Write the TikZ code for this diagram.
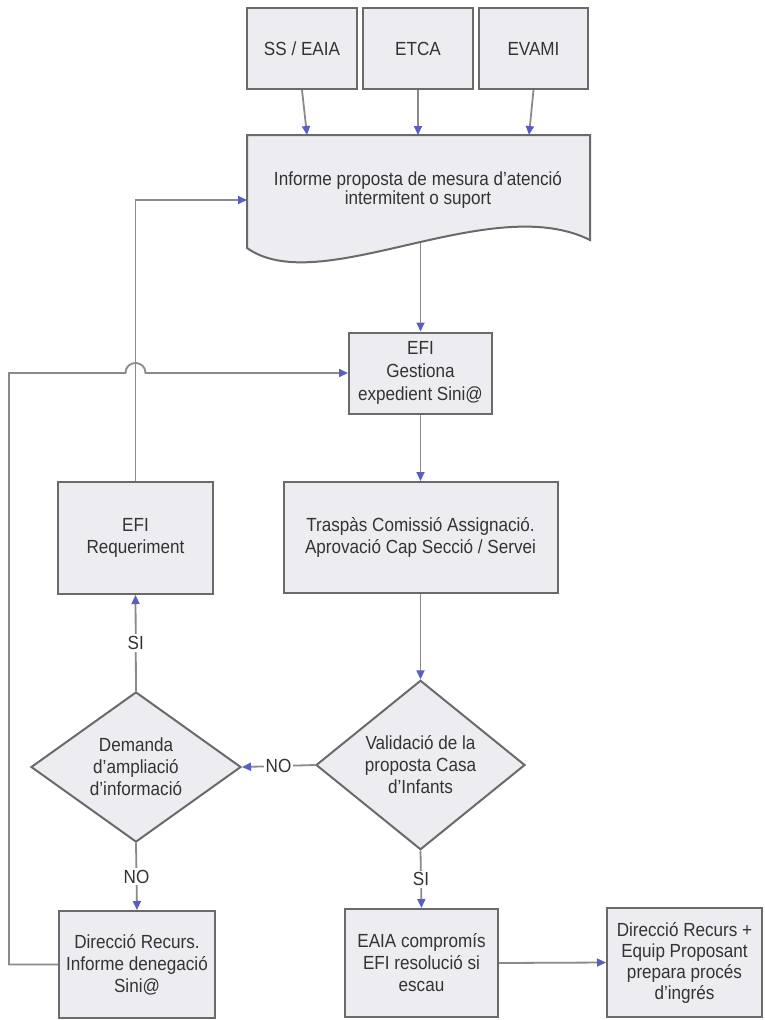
\documentclass[tikz,border=0pt]{standalone}
\usepackage{fontspec}
\setmainfont{Liberation Sans}[FakeStretch=0.9]
\usetikzlibrary{arrows.meta,shapes.geometric,calc}
\definecolor{boxfill}{HTML}{EDEDF1}
\definecolor{boxline}{HTML}{6A6A6A}
\definecolor{connc}{HTML}{8A8A8A}
\definecolor{tipblue}{HTML}{5A5EC0}
\definecolor{txt}{HTML}{333333}
\begin{document}
\begin{tikzpicture}[x=1pt,y=-1pt,
  every node/.style={font=\fontsize{19}{22}\selectfont, text=txt},
  box/.style={draw=boxline, line width=2pt, fill=boxfill, align=center, inner sep=0pt},
  dia/.style={diamond, draw=boxline, line width=2pt, fill=boxfill, align=center, inner sep=0pt},
  conn/.style={draw=connc, line width=1.8pt},
  arr/.style={conn, -{Triangle[length=9pt,width=8pt,color=tipblue]}},
  lbl/.style={fill=white, inner sep=2pt}
]
\useasboundingbox (0,0) rectangle (765,1020);

% top sources
\node[box, minimum width=110pt, minimum height=81pt] (ss) at (302,48.5) {SS / EAIA};
\node[box, minimum width=110pt, minimum height=81pt] (etca) at (418,48.5) {ETCA};
\node[box, minimum width=109pt, minimum height=81pt] (evami) at (533.5,48.5) {EVAMI};

% document shape
\draw[draw=boxline, line width=2pt, fill=boxfill] (247,135) -- (590,135) -- (590,240)
  .. controls (490,190) and (320,300) .. (247,248) -- cycle;
\node[align=center, font=\fontsize{19}{19}\selectfont] (doc) at (418,190)
  {Informe proposta de mesura d'atenció\\intermitent o suport};
\coordinate (docSS) at (307,135);
\coordinate (docET) at (418,135);
\coordinate (docEV) at (529,135);
\coordinate (docin) at (247,200);
\coordinate (docout) at (420.5,243);
\coordinate (lx) at (9,0);

% process nodes
\node[box, minimum width=143pt, minimum height=81pt] (efi) at (420.5,373) {EFI\\[1pt]Gestiona\\[1pt]expedient Sini@};
\node[box, minimum width=155pt, minimum height=112pt] (req) at (135.5,538) {EFI\\Requeriment};
\node[box, minimum width=274pt, minimum height=111pt] (trasp) at (420.5,537.5) {Traspàs Comissió Assignació.\\Aprovació Cap Secció / Servei};
\node[dia, minimum width=210pt, minimum height=148pt] (dem) at (136,767) {Demanda\\d'ampliació\\d'informació};
\node[dia, minimum width=209pt, minimum height=148pt] (val) at (420.5,765) {Validació de la\\proposta Casa\\d'Infants};
\node[box, minimum width=156pt, minimum height=107pt] (dir) at (137,964.5) {Direcció Recurs.\\Informe denegació\\Sini@};
\node[box, minimum width=153pt, minimum height=108pt] (eaia) at (421.5,963) {EAIA compromís\\EFI resolució si\\escau};
\node[box, minimum width=155pt, minimum height=109pt, font=\fontsize{19}{21}\selectfont] (dr2) at (684.5,962.5) {Direcció Recurs +\\Equip Proposant\\prepara procés\\d'ingrés};

% connectors
\draw[arr] (ss.south) -- (docSS);
\draw[arr] (etca.south) -- (docET);
\draw[arr] (evami.south) -- (docEV);
\draw[arr] (docout) -- (efi.north);
\draw[arr] (efi.south) -- (trasp.north);
\draw[arr] (trasp.south) -- (val.north);
\draw[arr] (val.west) -- node[lbl] {NO} (dem.east);
\draw[arr] (dem.north) -- node[lbl] {SI} (req.south);
\draw[arr] (dem.south) -- node[lbl] {NO} (dir.north);
\draw[arr] (val.south) -- node[lbl] {SI} (eaia.north);
\draw[arr] (eaia.east) -- (dr2.west);
\draw[arr] (req.north) |- (docin);
\draw[arr] (dir.west) -- (dir.west -| lx) -- (lx |- efi.west)
  -- ($(req.north |- efi.west)+(-10,0)$)
  .. controls +(0,-13.3) and +(0,-13.3) .. ($(req.north |- efi.west)+(10,0)$)
  -- (efi.west);
\end{tikzpicture}
\end{document}
